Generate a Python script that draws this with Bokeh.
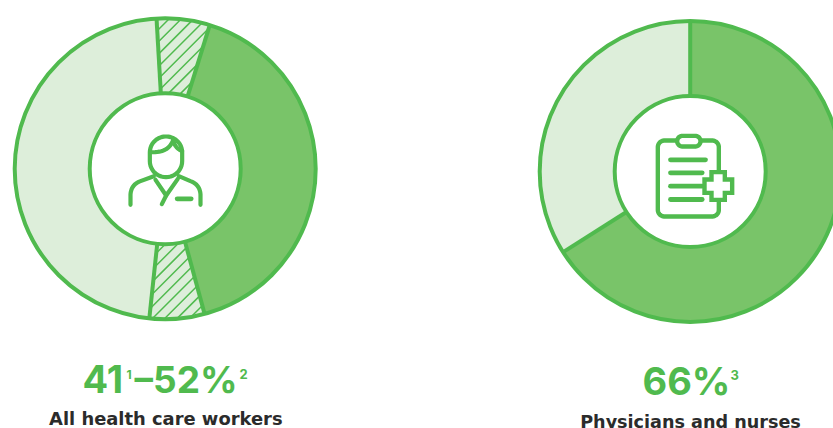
import numpy as np
from bokeh.plotting import figure
from bokeh.models import Range1d, ColumnDataSource
from bokeh.core.properties import value
from bokeh.embed import file_html
from bokeh.resources import INLINE

# Data: share of the ring, percent, clockwise
left_start = -3.3
left_segments = ["range_top", "low", "range_bottom", "rest"]
left_values = [5.7, 41.0, 5.9, 47.4]
right_segments = ["value", "rest"]
right_values = [66.0, 34.0]
left_label = ["41", "1", "–52%", "2"]
right_label = ["66%", "3"]
left_caption = "All health care workers"
right_caption = "Physicians and nurses"

STROKE = "#50BA4E"
DARK = "#79C469"
LIGHT = "#DDEEDA"
INK = "#2B2B2B"
W, H = 833, 428
R_OUT, R_IN = 150.5, 75.5
LC, RC = (164.7, 168.3), (689.7, 171)
FONT = "Inter"
CAPFONT = "DejaVu Sans"
BASE_SHIFT = 0.45

def Y(py):
    return 428 - py

p = figure(width=W, height=H, output_backend="svg", toolbar_location=None,
           x_range=Range1d(0, 833), y_range=Range1d(0, 428), min_border=0,
           background_fill_color="white", border_fill_color="white", outline_line_color=None)
p.axis.visible = False
p.grid.visible = False

def ring(center, start, values, fills):
    edges = start + np.cumsum([0] + list(values)) * 3.6
    src = ColumnDataSource(dict(
        x=[center[0]] * len(values), y=[Y(center[1])] * len(values),
        start=np.deg2rad(90 - edges[1:]), end=np.deg2rad(90 - edges[:-1]), fill=fills))
    p.annular_wedge(x="x", y="y", inner_radius=R_IN, outer_radius=R_OUT, start_angle="start",
                    end_angle="end", direction="anticlock", fill_color="fill", line_color=None, source=src)
    return edges

def hatch(center, a0, a1):
    xs, ys = [], []
    for c in np.arange(-260, 260, 8.7 * np.sqrt(2)):
        t = np.linspace(-170, 170, 681)
        dx, dy = t, t + c
        r = np.hypot(dx, dy)
        a = np.degrees(np.arctan2(dx, dy)) % 360
        lo, hi = a0 % 360, a1 % 360
        ok = (a >= lo) & (a <= hi) if lo < hi else (a >= lo) | (a <= hi)
        ok &= (r >= R_IN) & (r <= R_OUT)
        if ok.any():
            xs.append(list(center[0] + dx[ok]))
            ys.append(list(Y(center[1]) + dy[ok]))
    p.multi_line(xs, ys, line_color=STROKE, line_width=1.5)

def frame(center, edges):
    ang = np.deg2rad(edges[:-1])
    cx, cy = center[0], Y(center[1])
    p.segment(cx + R_IN * np.sin(ang), cy + R_IN * np.cos(ang), cx + R_OUT * np.sin(ang), cy + R_OUT * np.cos(ang),
              line_color=STROKE, line_width=4)
    p.circle([cx], [cy], radius=R_OUT, fill_color=None, line_color=STROKE, line_width=4)
    p.circle([cx], [cy], radius=R_IN, fill_color="white", line_color=STROKE, line_width=4)

edges = ring(LC, left_start, left_values, [LIGHT, DARK, LIGHT, LIGHT])
hatch(LC, edges[0], edges[1])
hatch(LC, edges[2], edges[3])
frame(LC, edges)
edges = ring(RC, 0, right_values, [DARK, LIGHT])
frame(RC, edges)

def person(x, y):
    return 100 + np.asarray(x, float) / 3, Y(110 + np.asarray(y, float) / 3)
def clip(x, y):
    return 630 + np.asarray(x, float) / 3, Y(110 + np.asarray(y, float) / 3)

def rrect(l, r, t, b, rad):
    th = np.linspace(0, np.pi / 2, 12)
    x = np.r_[r - rad + rad * np.sin(th), r - rad + rad * np.cos(th), l + rad - rad * np.sin(th), l + rad - rad * np.cos(th)]
    y = np.r_[t + rad - rad * np.cos(th), b - rad + rad * np.sin(th), b - rad + rad * np.cos(th), t + rad - rad * np.sin(th)]
    return np.r_[x, x[0]], np.r_[y, y[0]]

def quad(a, b, c, n=16):
    t = np.linspace(0, 1, n)[:, None]
    return (1 - t) ** 2 * np.array(a) + 2 * t * (1 - t) * np.array(b) + t ** 2 * np.array(c)

def stroke(tf, pts, w=4.2):
    pts = np.asarray(pts, float)
    x, y = tf(pts[:, 0], pts[:, 1])
    p.line(x, y, line_color=STROKE, line_width=w, line_cap="round", line_join="round")

hx, hy = rrect(148, 245, 78, 200, 48)
stroke(person, np.c_[hx, hy])
stroke(person, quad((150, 125), (205, 128), (218, 88)))
stroke(person, quad((218, 88), (222, 112), (245, 122)))
stroke(person, np.vstack([[[90, 283], [90, 252]], quad((90, 252), (92, 222), (120, 212)), [[160, 197]]]))
stroke(person, np.vstack([[[300, 283], [300, 252]], quad((300, 252), (298, 222), (270, 212)), [[235, 197]]]))
stroke(person, [[165, 208], [197, 255], [232, 205]])
stroke(person, [[197, 255], [184, 281]])
stroke(person, [[230, 265], [272, 265]], 4.8)

bx, by = rrect(82, 265, 90, 318, 20)
stroke(clip, np.c_[bx, by], 4.4)
cx_, cy_ = rrect(140, 210, 76, 108, 16)
x_, y_ = clip(cx_, cy_)
p.patch(x_, y_, fill_color="white", line_color=STROKE, line_width=4.4)
for xa, xb, yy in [(120, 225, 148), (120, 215, 187), (120, 215, 227), (120, 215, 267)]:
    stroke(clip, [[xa, yy], [xb, yy]], 4.8)
px_ = np.array([243, 283, 283, 305, 305, 283, 283, 243, 243, 222, 222, 243, 243])
py_ = np.array([185, 185, 207, 207, 247, 247, 268, 268, 247, 247, 207, 207, 185])
x_, y_ = clip(px_, py_)
p.patch(x_, y_, fill_color="white", line_color=STROKE, line_width=4.4, line_join="miter")

def txt(x, py, s, size, color, font=FONT, align="left"):
    p.text([x], [Y(py - BASE_SHIFT * size)], text=[s], text_font=value(font), text_font_size=f"{size}px",
           text_font_style="bold", text_color=color, text_align=align, text_baseline="alphabetic")

txt(82, 396, left_label[0], 38, STROKE)
txt(126, 379, left_label[1], 12, STROKE)
txt(134, 396, left_label[2], 37, STROKE)
txt(239, 379, left_label[3], 13, STROKE)
txt(642, 398, right_label[0], 38, STROKE)
txt(730, 380, right_label[1], 13, STROKE)
txt(165.3, 426, left_caption, 17.9, INK, CAPFONT, "center")
txt(690, 429, right_caption, 17.6, INK, CAPFONT, "center")

open("out.html", "w").write(file_html(p, INLINE))
